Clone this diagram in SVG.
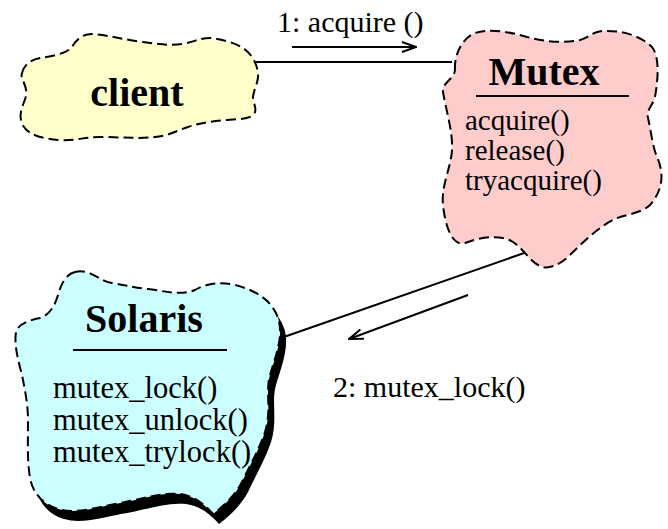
<svg xmlns="http://www.w3.org/2000/svg" width="668" height="529" viewBox="0 0 668 529">
  <defs>
    <style>
      .cloud { stroke: #000; stroke-width: 2; stroke-dasharray: 10 5; stroke-linejoin: round; }
      .title { font-family: "Liberation Serif", "Times New Roman", serif; font-weight: bold; font-size: 40px; fill: #000; }
      .item { font-family: "Liberation Serif", "Times New Roman", serif; font-size: 29px; fill: #000; }
      .item-wide { font-family: "Liberation Serif", "Times New Roman", serif; font-size: 30.5px; fill: #000; }
      .label { font-family: "Liberation Serif", "Times New Roman", serif; font-size: 30px; fill: #000; }
      .link { stroke: #000; stroke-width: 2; fill: none; }
      .rule { stroke: #000; stroke-width: 2; }
    </style>
    <marker id="open-arrow" viewBox="0 0 16 12" refX="15" refY="6" markerWidth="16" markerHeight="12" markerUnits="userSpaceOnUse" orient="auto">
      <path d="M1,1 L15,6 L1,11" fill="none" stroke="#000" stroke-width="2"/>
    </marker>
    <path id="solaris-outline" d="M75,272 C90,268 100,282 112,283 C125,285 135,288 148,289 C165,291 180,296 195,290 C205,284 220,281 235,285 C255,290 272,300 278,318 C284,335 276,355 270,375 C265,392 272,410 265,432 C259,450 250,465 242,482 C235,495 225,505 213,514 C205,505 195,496 180,494 C160,492 140,500 115,504 C95,508 75,514 58,509 C44,505 33,494 30,478 C27,460 28,440 28,420 C28,405 25,390 22,375 C18,360 14,345 16,332 C18,324 30,320 40,318 C50,315 55,305 58,295 C61,284 66,274 75,272 Z"/>
  </defs>

  <rect width="668" height="529" fill="#fff"/>

  <!-- connectors and message arrows -->
  <g id="connectors">
    <line class="link" x1="254" y1="62" x2="452" y2="62"/>
    <line class="link" x1="527" y1="252" x2="281" y2="338"/>
    <line class="link" x1="292" y1="47" x2="416" y2="47" marker-end="url(#open-arrow)"/>
    <text class="label" x="277" y="32">1: acquire ()</text>
    <line class="link" x1="468" y1="295" x2="349" y2="339" marker-end="url(#open-arrow)"/>
    <text class="label" x="333" y="397">2: mutex_lock()</text>
  </g>

  <!-- client -->
  <g id="client">
    <path class="cloud" fill="#ffffcc" d="M22,73 C24,65 30,60 40,58 C52,56 66,54 72,47 C76,40 82,34 92,34 C108,35 125,40 143,42 C158,44 170,46 182,44 C194,42 200,38 210,38 C222,39 235,43 243,48 C252,54 257,64 258,73 C259,82 254,88 253,97 C253,104 258,109 254,114 C250,119 240,119 227,120 C212,121 200,123 188,127 C176,131 168,136 155,137 C140,139 120,137 100,137 C85,137 75,141 60,140 C45,139 30,136 24,127 C18,118 21,110 24,102 C27,95 27,90 24,83 C22,79 21,76 22,73 Z"/>
    <text class="title" x="137" y="106" text-anchor="middle">client</text>
  </g>

  <!-- Mutex -->
  <g id="mutex">
    <path class="cloud" fill="#ffcccc" d="M455,70 C454,55 462,38 475,33 C490,28 510,32 527,37 C542,41 562,44 580,40 C590,37 592,32 602,31 C620,30 640,35 652,47 C660,57 658,80 655,97 C653,105 646,110 648,118 C651,130 652,145 657,157 C663,170 665,188 650,205 C640,214 626,214 615,219 C600,226 585,240 570,255 C560,265 548,270 540,266 C530,262 525,250 513,242 C500,234 480,237 465,243 C452,247 445,225 443,205 C441,185 451,168 452,150 C453,132 446,110 443,92 C442,82 454,80 455,70 Z"/>
    <text class="title" x="544" y="85" text-anchor="middle">Mutex</text>
    <line class="rule" x1="476" y1="96" x2="629" y2="96"/>
    <text class="item" x="465" y="130">acquire()</text>
    <text class="item" x="465" y="160">release()</text>
    <text class="item" x="465" y="190">tryacquire()</text>
  </g>

  <!-- Solaris, with its drop shadow -->
  <g id="solaris">
    <use href="#solaris-outline" fill="#000" transform="translate(6,10)"/>
    <use href="#solaris-outline" class="cloud" fill="#ccffff"/>
    <text class="title" x="144" y="332" text-anchor="middle">Solaris</text>
    <line class="rule" x1="73" y1="350" x2="227" y2="350"/>
    <text class="item-wide" x="53" y="398">mutex_lock()</text>
    <text class="item-wide" x="53" y="430">mutex_unlock()</text>
    <text class="item-wide" x="53" y="462">mutex_trylock()</text>
  </g>
</svg>
